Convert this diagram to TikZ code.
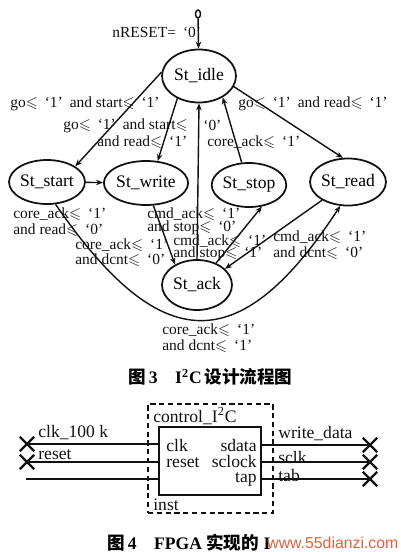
\documentclass[tikz,border=0pt]{standalone}
\usepackage{amssymb}
\usepackage{fontspec}
\setmainfont{Liberation Serif}
\newfontfamily\cjk{Noto Sans CJK SC}
\newfontfamily\websans{Liberation Sans}
\usepackage{tikz}
\usetikzlibrary{positioning,arrows.meta,shapes.geometric,shapes.misc}
\definecolor{ink}{HTML}{111111}
\definecolor{webmark}{HTML}{E0603C}
\newcommand{\leqs}{\ensuremath{\leqslant}}
\newcommand{\bit}[1]{\hspace{0.2em}`#1'\hspace{0.2em}}
\tikzset{
  state/.style={ellipse, draw=ink, line width=1pt, minimum width=1.44cm, minimum height=0.88cm,
                inner sep=0pt, font=\fontsize{10}{12}\selectfont},
  initdot/.style={ellipse, draw=ink, line width=0.8pt, minimum width=0.1cm, minimum height=0.16cm, inner sep=0pt},
  cond/.style={anchor=west, inner sep=0pt, text=ink, font=\fontsize{8.8}{10}\selectfont},
  arr/.style={-{Stealth[length=1.4mm,width=1.1mm]}, line width=0.8pt, draw=ink},
  frame/.style={rectangle, draw=ink, dashed, dash pattern=on 3pt off 2pt, line width=0.8pt,
                minimum width=2.5cm, minimum height=2.18cm},
  core/.style={rectangle, draw=ink, line width=0.9pt, minimum width=2.04cm, minimum height=1.36cm},
  port/.style={inner sep=0pt, text=ink, font=\fontsize{10}{12}\selectfont},
  sig/.style={line width=1.1pt, draw=ink},
  xmark/.style={cross out, draw=ink, line width=1.4pt, minimum size=0.24cm, inner sep=0pt},
  caption/.style={anchor=west, inner sep=0pt, font=\fontsize{10}{12}\selectfont\bfseries},
}

\begin{document}
\begin{tikzpicture}[x=0.02cm, y=-0.02cm]
  \useasboundingbox (0,0) rectangle (400,552);
  % state machine
  \node[initdot] (init) at (198,14) {};
  \node[state, minimum width=1.48cm, minimum height=1.06cm] (idle) at (199,76) {St\_idle};
  \node[state] (start) at (47,182) {St\_start};
  \node[state] (write) at (146,183) {St\_write};
  \node[state] (stop) at (249,185) {St\_stop};
  \node[state, minimum height=0.94cm] (read) at (348,182) {St\_read};
  \node[state, minimum width=1.40cm, minimum height=1.0cm] (ack) at (197,285) {St\_ack};

  \draw[arr] (init) -- (idle);
  \draw[arr] (idle.174) -- (start.29);
  \draw[arr] (idle.226) -- (write.62);
  \draw[arr] (ack.north) -- (idle.south);
  \draw[arr] (stop.108) -- (idle.-42);
  \draw[arr] (idle.-17) -- (read.102);
  \draw[arr] (start) -- (write);
  \draw[arr] (write.-72) -- (ack.137);
  \draw[arr] (ack.49) -- (stop.-59);
  \draw[arr] (read.215) -- (ack.30);
  \draw[arr] (start.-69) .. controls (160,356) and (239,361) .. (read.-108);

  % conditions
  \node[cond] (c0) at (112,32) {nRESET= \bit{0}};
  \node[cond] (c1) at (10,104) {go\leqs{} \bit{1} and start\leqs{} \bit{1}};
  \node[cond] (c2) at (63,126) {go\leqs{} \bit{1} and start\leqs};
  \node[cond] (c3) at (203,125) {`0'};
  \node[cond] (c4) at (97,142) {and read\leqs{} \bit{1}};
  \node[cond] (c5) at (207,142) {core\_ack\leqs{} \bit{1}};
  \node[cond] (c6) at (238,104) {go\leqs{} \bit{1} and read\leqs{} \bit{1}};
  \node[cond] (c7) at (13,214) {core\_ack\leqs{} \bit{1}};
  \node[cond] (c8) at (13,230) {and read\leqs{} \bit{0}};
  \node[cond] (c9) at (75,245) {core\_ack\leqs{} \bit{1}};
  \node[cond] (c10) at (75,260) {and dcnt\leqs{} \bit{0}};
  \node[cond] (c11) at (147,214) {cmd\_ack\leqs{} \bit{1}};
  \node[cond] (c12) at (147,228) {and stop\leqs{} \bit{0}};
  \node[cond] (c13) at (173,241) {cmd\_ack\leqs{} \bit{1}};
  \node[cond] (c14) at (173,254) {and stop\leqs{} \bit{1}};
  \node[cond] (c15) at (273,237) {cmd\_ack\leqs{} \bit{1}};
  \node[cond] (c16) at (273,253) {and dcnt\leqs{} \bit{0}};
  \node[cond] (c17) at (162,330) {core\_ack\leqs{} \bit{1}};
  \node[cond] (c18) at (162,346) {and dcnt\leqs{} \bit{1}};

  \node[caption] (cap3) at (128,377) {{\cjk 图}\,3\quad I\textsuperscript{2}C\,{\cjk 设计流程图}};

  % FPGA block
  \node[frame] (ctrl) at (210.5,458.5) {};
  \node[core] (core) at (210,461) {};
  \node[port, anchor=west] (ctrlname) at (153,416) {control\_I\textsuperscript{2}C};
  \node[port, anchor=west] (inst) at (153,505) {inst};
  \node[port, anchor=west] (pclk) at (166,445) {clk};
  \node[port, anchor=west] (preset) at (166,463) {reset};
  \node[port, anchor=east] (psdata) at (257,445) {sdata};
  \node[port, anchor=east] (psclock) at (257,461) {sclock};
  \node[port, anchor=east] (ptap) at (257,479) {tap};

  \node[xmark] (xclk) at (27,444) {};
  \node[xmark] (xreset) at (27,462) {};
  \coordinate (in3) at (26,479);
  \node[xmark] (xwd) at (370,445) {};
  \node[xmark] (xsclk) at (370,462) {};
  \node[xmark] (xtab) at (370,479) {};

  \draw[sig] (xclk.center) -- (xclk.center -| core.west);
  \draw[sig] (xreset.center) -- (xreset.center -| core.west);
  \draw[sig] (in3) -- (in3 -| core.west);
  \draw[sig] (xwd.center -| core.east) -- (xwd.center);
  \draw[sig] (xsclk.center -| core.east) -- (xsclk.center);
  \draw[sig] (xtab.center -| core.east) -- (xtab.center);

  \node[port, anchor=west] (nclk) at (38,433) {clk\_100 k};
  \node[port, anchor=west] (nreset) at (38,455) {reset};
  \node[port, anchor=west] (nwd) at (278,434) {write\_data};
  \node[port, anchor=west] (nsclk) at (278,457) {sclk};
  \node[port, anchor=west] (ntab) at (278,475) {tab};

  \node[caption] (cap4) at (107,543) {{\cjk 图}\,4\quad FPGA {\cjk 实现的} I};
  \node[anchor=west, inner sep=0pt, text=webmark, font=\websans\fontsize{9}{11}\selectfont] (web) at (267,543) {www.55dianzi.com};
\end{tikzpicture}
\end{document}
